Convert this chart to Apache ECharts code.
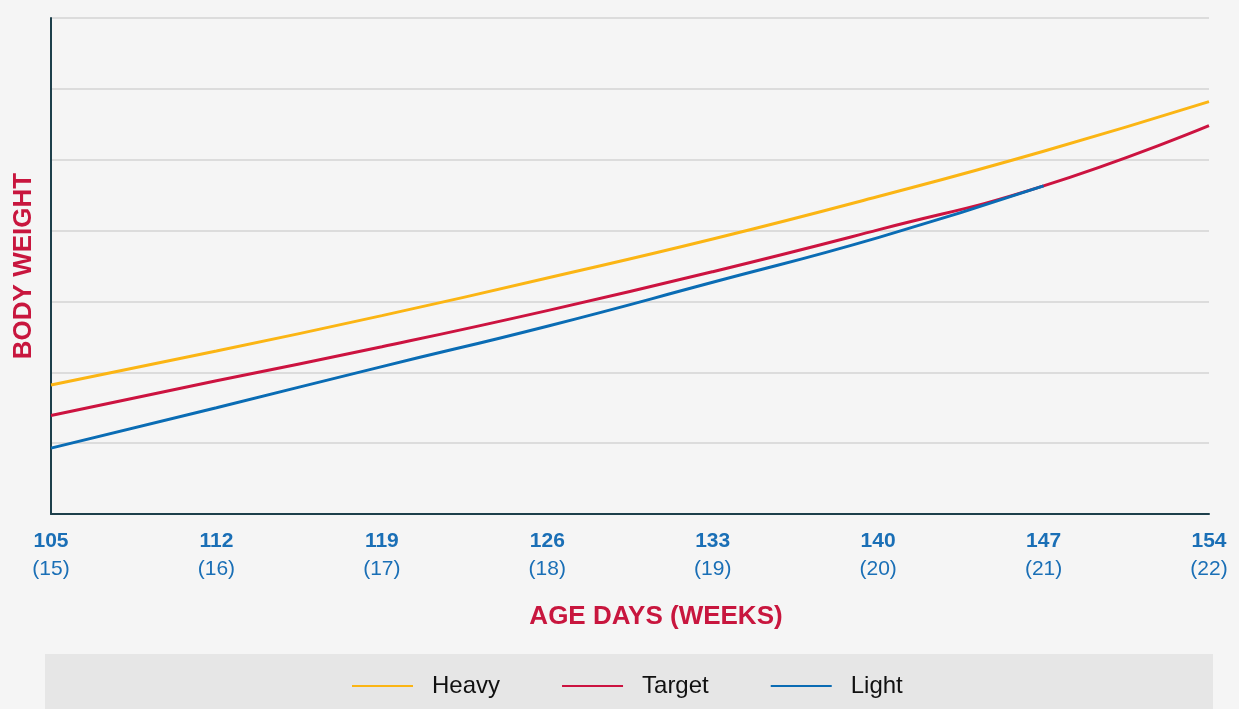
<html>
<head>
    <meta charset="utf-8" />
    <title>Body Weight</title>
    <script src="https://cdn.jsdelivr.net/npm/echarts@6/dist/echarts.min.js"></script>
    <style>
        html, body { margin: 0; padding: 0; background: #f5f5f5; }
    </style>
    <script type="text/javascript">
        // age in days, week in brackets
        var days = [105, 112, 119, 126, 133, 140, 147, 154];
        var weeks = [15, 16, 17, 18, 19, 20, 21, 22];
        // body weight (no units shown)
        var heavy = [1.82, 2.30, 2.80, 3.33, 3.88, 4.48, 5.12, 5.82];
        var target = [1.39, 1.88, 2.36, 2.87, 3.42, 4.01, 4.63, 5.48];
        var light = [0.93, 1.50, 2.08, 2.65, 3.27, 3.90, 4.63];

        function pairs(vals) {
            return vals.map(function (v, i) { return [days[i], v]; });
        }
    </script>
</head>
<body>
    <div id="chart" style="width: 1239px;height:709px;"></div>
    <script type="text/javascript">
        var chart = echarts.init(document.getElementById('chart'));
        var fontFam = 'Liberation Sans, Arial, sans-serif';

        var option = {
            backgroundColor: '#f5f5f5',
            animation: false,
            textStyle: { fontFamily: fontFam },
            graphic: [{
                type: 'rect',
                z: -1,
                shape: { x: 45, y: 654, width: 1168, height: 60 },
                style: { fill: '#e6e6e6' }
            }],
            legend: {
                left: 347,
                top: 669,
                itemWidth: 61,
                itemHeight: 2,
                itemGap: 62,
                icon: 'rect',
                textStyle: {
                    fontSize: 24,
                    color: '#111',
                    padding: [0, 0, 0, 14]
                },
                data: ['Heavy', 'Target', 'Light']
            },
            grid: {
                left: 51,
                right: 30,
                top: 18,
                bottom: 195
            },
            xAxis: {
                type: 'value',
                min: 105,
                max: 154,
                interval: 7,
                name: 'AGE DAYS (WEEKS)',
                nameLocation: 'middle',
                nameGap: 90,
                nameTextStyle: {
                    color: '#c8163e',
                    fontSize: 26,
                    fontWeight: 'bold',
                    padding: [0, 0, 0, 52]
                },
                axisLine: { lineStyle: { color: '#1d3f4b', width: 2 } },
                axisTick: { show: false },
                splitLine: { show: false },
                axisLabel: {
                    margin: 13,
                    lineHeight: 28,
                    formatter: function (v) {
                        var i = days.indexOf(v);
                        return '{a|' + v + '}\n{b|(' + weeks[i] + ')}';
                    },
                    rich: {
                        a: { color: '#1a6fb6', fontSize: 21, fontWeight: 'bold', lineHeight: 28 },
                        b: { color: '#1a6fb6', fontSize: 21, lineHeight: 28 }
                    }
                }
            },
            yAxis: {
                type: 'value',
                min: 0,
                max: 7,
                interval: 1,
                name: 'BODY WEIGHT',
                nameLocation: 'middle',
                nameGap: 14,
                nameTextStyle: {
                    color: '#c8163e',
                    fontSize: 26,
                    fontWeight: 'bold'
                },
                axisLine: { show: true, lineStyle: { color: '#1d3f4b', width: 2 } },
                axisTick: { show: false },
                axisLabel: { show: false },
                splitLine: { lineStyle: { color: '#dcdcdc', width: 2 } }
            },
            series: [
                {
                    name: 'Heavy',
                    type: 'line',
                    smooth: true,
                    showSymbol: false,
                    color: '#fbb514',
                    lineStyle: { width: 3 },
                    data: pairs(heavy)
                },
                {
                    name: 'Target',
                    type: 'line',
                    smooth: true,
                    showSymbol: false,
                    color: '#cc1340',
                    lineStyle: { width: 3 },
                    data: pairs(target)
                },
                {
                    name: 'Light',
                    type: 'line',
                    smooth: true,
                    showSymbol: false,
                    color: '#0a6cb4',
                    lineStyle: { width: 3 },
                    data: pairs(light)
                }
            ]
        };
        chart.setOption(option);
    </script>
</body>
</html>
